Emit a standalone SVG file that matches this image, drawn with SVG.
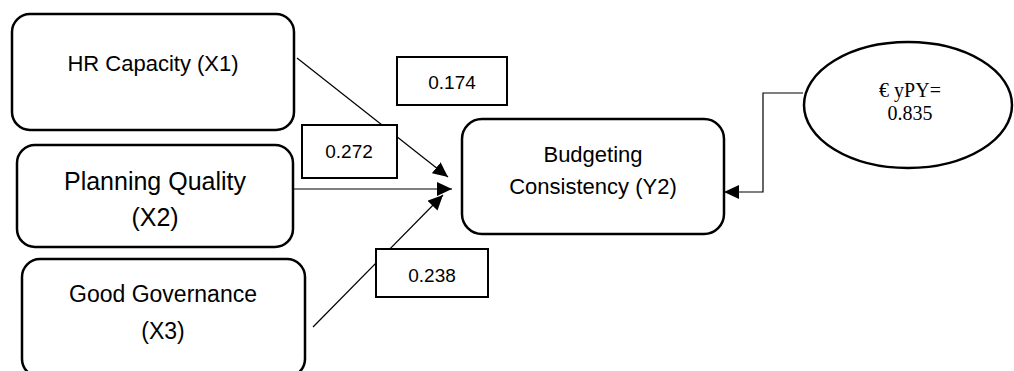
<svg xmlns="http://www.w3.org/2000/svg" width="1014" height="371" viewBox="0 0 1014 371">
<style>
.node{fill:#fff;stroke:#000;stroke-width:2.5}
.coef{fill:#fff;stroke:#000;stroke-width:2}
.lbl{font-family:"Liberation Sans",Arial,sans-serif;fill:#000;text-anchor:middle}
.ser{font-family:"Liberation Serif","Times New Roman",serif;fill:#000;text-anchor:middle;font-size:20px}
.conn{fill:none;stroke:#000;stroke-width:1.2}
</style>
<defs>
<marker id="arr" markerUnits="userSpaceOnUse" markerWidth="16" markerHeight="14" refX="15" refY="7" orient="auto">
<path d="M0,0 L15,7 L0,14 Z" fill="#000"/>
</marker>
</defs>
<rect width="1014" height="371" fill="#fff"/>
<g id="connectors">
<line class="conn" x1="297" y1="58" x2="448" y2="177" marker-end="url(#arr)"/>
<line class="conn" x1="293" y1="189" x2="452" y2="189" marker-end="url(#arr)"/>
<line class="conn" x1="313" y1="327" x2="443" y2="195" marker-end="url(#arr)"/>
<path class="conn" d="M803,93 H763 V192 H724" marker-end="url(#arr)"/>
</g>
<g id="x1">
<rect class="node" x="12" y="14" width="282" height="116" rx="18"/>
<text class="lbl" x="153" y="71" font-size="22">HR Capacity (X1)</text>
</g>
<g id="x2">
<rect class="node" x="17" y="145" width="276" height="102" rx="18"/>
<text class="lbl" x="155" y="190" font-size="25">Planning Quality</text>
<text class="lbl" x="155" y="226" font-size="25">(X2)</text>
</g>
<g id="x3">
<rect class="node" x="22" y="259" width="283" height="118" rx="18"/>
<text class="lbl" x="163" y="302" font-size="23">Good Governance</text>
<text class="lbl" x="163" y="339" font-size="23">(X3)</text>
</g>
<g id="y2">
<rect class="node" x="462" y="119" width="262" height="115" rx="20"/>
<text class="lbl" x="593" y="162" font-size="22">Budgeting</text>
<text class="lbl" x="593" y="194" font-size="22">Consistency (Y2)</text>
</g>
<g id="error">
<ellipse class="node" cx="908" cy="105" rx="104" ry="63" stroke-width="2"/>
<text class="ser" x="910" y="97">€ yPY=</text>
<text class="ser" x="910" y="120">0.835</text>
</g>
<g id="c174">
<rect class="coef" x="397" y="57" width="110" height="48"/>
<text class="lbl" x="452" y="89" font-size="19">0.174</text>
</g>
<g id="c272">
<rect class="coef" x="302" y="125" width="95" height="53"/>
<text class="lbl" x="349" y="158" font-size="19">0.272</text>
</g>
<g id="c238">
<rect class="coef" x="376" y="249" width="112" height="48"/>
<text class="lbl" x="432" y="282" font-size="19">0.238</text>
</g>
</svg>
